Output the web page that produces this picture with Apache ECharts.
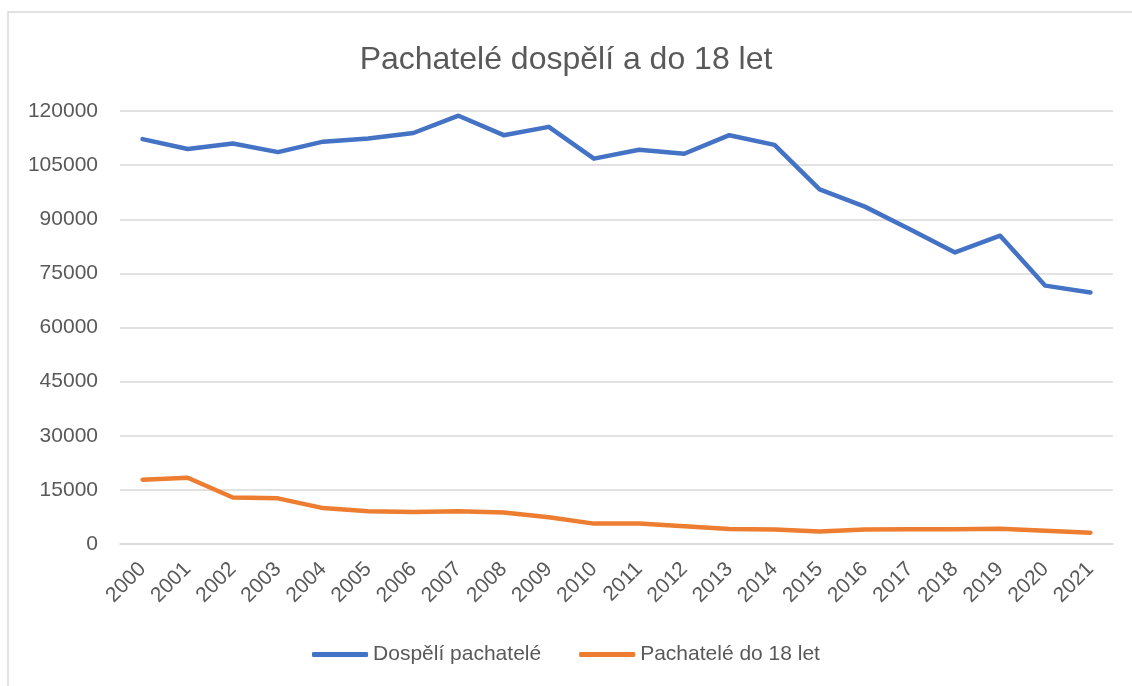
<!DOCTYPE html>
<html>
<head>
<meta charset="utf-8">
<script src="https://cdn.jsdelivr.net/npm/echarts@6/dist/echarts.min.js"></script>
<style>
  html, body { margin: 0; padding: 0; background: #fff; }
  #graf { width: 1132px; height: 686px; }
</style>
</head>
<body>
<div id="graf"></div>
<script>
// roky a hodnoty
var roky = ['2000','2001','2002','2003','2004','2005','2006','2007','2008','2009','2010',
            '2011','2012','2013','2014','2015','2016','2017','2018','2019','2020','2021'];
var dospeli = [112200,109450,111000,108600,111500,112400,113900,118700,113300,115600,106800,
               109250,108150,113300,110600,98300,93500,87200,80800,85450,71600,69700];
var mladistvi = [17800,18350,12900,12650,9950,9100,8850,9050,8750,7400,5650,
                 5650,4900,4150,4000,3450,4000,4100,4100,4250,3700,3150];

var seda = '#595959';
var myChar = echarts.init(document.getElementById('graf'));
var option = {
	backgroundColor: '#fff',
	animation: false,
	graphic: [{
		type: 'rect',
		shape: { x: 8, y: 12, width: 1200, height: 700 },
		style: { fill: 'none', stroke: '#d9d9d9', lineWidth: 1.5 },
		silent: true
	}],
	title: {
		text: 'Pachatelé dospělí a do 18 let',
		left: 'center',
		top: 39,
		textStyle: {
			color: seda,
			fontFamily: 'Liberation Sans',
			fontWeight: 'normal',
			fontSize: 32
		}
	},
	grid: {
		left: 120,
		right: 19,
		top: 111,
		bottom: 142,
		containLabel: false
	},
	legend: {
		bottom: 16,
		left: 'center',
		icon: 'roundRect',
		itemWidth: 56,
		itemHeight: 5,
		itemGap: 38,
		textStyle: { color: seda, fontSize: 21, fontFamily: 'Liberation Sans' },
		data: ['Dospělí pachatelé', 'Pachatelé do 18 let']
	},
	xAxis: {
		type: 'category',
		data: roky,
		boundaryGap: true,
		axisLine: { lineStyle: { color: '#d9d9d9', width: 1.5 } },
		axisTick: { show: false },
		axisLabel: {
			rotate: 45,
			margin: 22,
			color: seda,
			fontSize: 21,
			fontFamily: 'Liberation Sans',
			interval: 0
		}
	},
	yAxis: {
		type: 'value',
		min: 0,
		max: 120000,
		interval: 15000,
		axisLine: { show: false },
		axisTick: { show: false },
		axisLabel: {
			color: seda,
			fontSize: 21,
			fontFamily: 'Liberation Sans',
			margin: 22,
			formatter: function (v) { return String(v); }
		},
		splitLine: { lineStyle: { color: '#d9d9d9', width: 1.5 } }
	},
	series: [
		{
			name: 'Dospělí pachatelé',
			type: 'line',
			data: dospeli,
			showSymbol: false,
			symbol: 'none',
			itemStyle: { color: '#4472C4' },
			lineStyle: { color: '#4472C4', width: 4.5, cap: 'round', join: 'round' }
		},
		{
			name: 'Pachatelé do 18 let',
			type: 'line',
			data: mladistvi,
			showSymbol: false,
			symbol: 'none',
			itemStyle: { color: '#ED7D31' },
			lineStyle: { color: '#ED7D31', width: 4.5, cap: 'round', join: 'round' }
		}
	]
};
myChar.setOption(option);
</script>
</body>
</html>
